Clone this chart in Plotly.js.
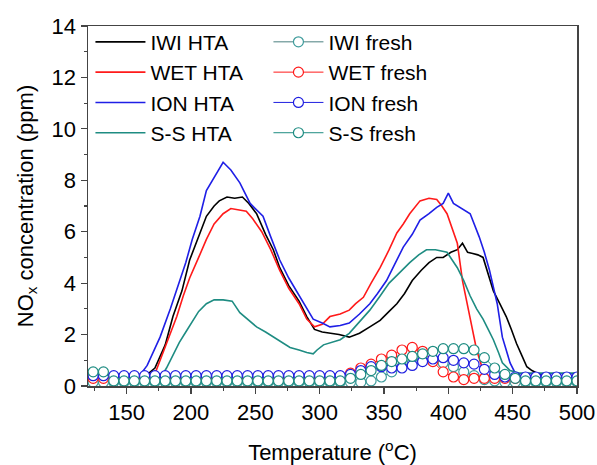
<!DOCTYPE html>
<html>
<head>
<meta charset="utf-8">
<script src="https://cdn.plot.ly/plotly-3.0.1.min.js"></script>
<style>html,body{margin:0;padding:0;background:#fff;}#chart{width:597px;height:465px;}</style>
</head>
<body>
<div id="chart"></div>
<script>
var iwiHtaT = [120,165,172,180,186,193,199,206,212,218,222,228,234,240,245,251,258,264,269,276,284,290,296,302,308,315,323,331,339,347,354,360,366,372,379,385,391,396,402,407,411,415,419,423,427,431,435,440,445,449,453,457,461,465,469,475,500];
var iwiHtaV = [0.4,0.4,0.7,1.6,2.7,3.7,4.9,5.8,6.6,7.0,7.2,7.35,7.3,7.35,7.1,6.7,5.9,5.3,4.6,3.9,3.3,2.7,2.2,2.1,2.05,2.0,1.9,2.05,2.3,2.55,2.9,3.2,3.6,4.1,4.5,4.8,5.0,5.0,5.2,5.3,5.55,5.2,5.15,5.1,5.0,4.3,3.7,3.2,2.7,2.2,1.65,1.2,0.75,0.6,0.5,0.4,0.4];

var wetHtaT = [120,168,173,180,189,194,199,206,212,218,225,231,238,243,248,255,262,269,276,284,290,296,302,308,316,323,328,334,340,347,354,360,365,370,378,385,391,395,399,403,407,411,414,417,422,427,432,500];
var wetHtaV = [0.4,0.4,0.6,1.5,2.7,3.5,4.2,5.0,5.7,6.3,6.7,6.9,6.85,6.8,6.5,6.0,5.3,4.5,3.8,3.2,2.6,2.3,2.4,2.7,2.8,2.95,3.2,3.45,4.0,4.6,5.3,5.95,6.3,6.7,7.2,7.3,7.25,7.0,6.7,6.1,5.55,4.1,3.4,2.7,1.4,0.6,0.3,0.3];

var ionHtaT = [120,160,166,176,184,191,196,201,207,212,218,225,231,238,246,256,262,269,276,282,289,295,302,308,316,323,331,339,345,352,358,365,372,378,385,391,396,400,404,409,417,424,428,432,435,438,442,445,448,452,456,500];
var ionHtaV = [0.4,0.4,0.8,1.9,3.0,4.0,4.8,5.7,6.6,7.6,8.1,8.7,8.4,7.9,7.1,6.6,5.8,4.9,4.2,3.7,3.1,2.6,2.45,2.3,2.35,2.45,2.8,3.2,3.6,4.1,4.7,5.4,5.9,6.45,6.7,6.95,7.1,7.5,7.1,6.95,6.7,5.8,5.2,4.5,3.8,3.2,1.9,1.4,0.9,0.5,0.4,0.4];

var ssHtaT = [120,178,181,186,191,196,201,206,212,218,225,232,238,244,251,258,264,270,277,284,290,295,298,303,308,316,323,331,339,347,354,362,370,377,383,390,395,399,403,407,412,417,422,427,431,435,439,442,448,455,500];
var ssHtaV = [0.45,0.45,0.7,1.2,1.7,2.1,2.5,2.9,3.2,3.35,3.35,3.3,2.85,2.6,2.3,2.1,1.9,1.7,1.5,1.4,1.3,1.25,1.4,1.6,1.67,1.8,2.05,2.5,2.95,3.5,4.0,4.4,4.8,5.1,5.3,5.3,5.25,5.2,4.9,4.6,4.1,3.5,3.0,2.6,2.2,1.8,1.3,0.9,0.6,0.5,0.5];

// fresh series (marker points)
var freshT = [124,132,140,148,156,164,172,180,188,196,204,212,220,228,236,244,252,260,268,276,284,292,300,308,316,324,332,340,348,356,364,372,380,388,396,404,412,420,428,436,444,452,460,468,476,484,492,500];
var iwiFreshV = [0.15,0.15,0.15,0.15,0.15,0.15,0.15,0.15,0.15,0.15,0.15,0.15,0.15,0.15,0.15,0.15,0.15,0.15,0.15,0.15,0.15,0.15,0.15,0.15,0.15,0.15,0.15,0.2,0.35,0.55,0.75,0.9,1.0,1.0,0.9,0.75,0.55,0.4,0.25,0.2,0.15,0.15,0.15,0.15,0.15,0.15,0.15,0.15];
var wetFreshV = [0.3,0.3,0.3,0.3,0.3,0.3,0.3,0.3,0.3,0.3,0.3,0.3,0.3,0.3,0.3,0.3,0.3,0.3,0.3,0.3,0.3,0.3,0.3,0.3,0.35,0.5,0.7,0.85,1.05,1.2,1.4,1.5,1.35,0.95,0.55,0.35,0.25,0.3,0.3,0.3,0.3,0.3,0.3,0.3,0.3,0.3,0.3,0.3];
var ionFreshV = [0.4,0.4,0.4,0.4,0.4,0.4,0.4,0.4,0.4,0.4,0.4,0.4,0.4,0.4,0.4,0.4,0.4,0.4,0.4,0.4,0.4,0.4,0.4,0.4,0.4,0.45,0.6,0.75,0.75,0.7,0.7,0.8,0.95,1.05,1.1,1.0,0.9,0.85,0.65,0.45,0.35,0.35,0.35,0.35,0.35,0.35,0.35,0.35];
var ssFreshV = [0.55,0.55,0.2,0.2,0.2,0.2,0.2,0.2,0.2,0.2,0.2,0.2,0.2,0.2,0.2,0.2,0.2,0.2,0.2,0.2,0.2,0.2,0.2,0.2,0.2,0.3,0.45,0.6,0.8,0.95,1.05,1.15,1.25,1.35,1.45,1.45,1.45,1.4,1.1,0.7,0.45,0.3,0.2,0.2,0.2,0.2,0.2,0.2];

var names = ['IWI HTA','WET HTA','ION HTA','S-S HTA','IWI fresh','WET fresh','ION fresh','S-S fresh'];

function hta(name, x, y, color){
  return {type:'scatter', mode:'lines', name:name, x:x, y:y, legend:'legend',
    line:{color:color, width:1.6}};
}
function fresh(name, y, color, lineColor){
  return {type:'scatter', mode:'lines+markers', name:name, x:freshT, y:y, legend:'legend2',
    line:{color:lineColor, width:1},
    marker:{symbol:'circle', size:10, color:'#ffffff', line:{color:color, width:1.2}}};
}

var data = [
  hta(names[0], iwiHtaT, iwiHtaV, '#000000'),
  hta(names[1], wetHtaT, wetHtaV, '#ff1a1a'),
  hta(names[2], ionHtaT, ionHtaV, '#1f1fe6'),
  hta(names[3], ssHtaT, ssHtaV, '#1e8c82'),
  fresh(names[4], iwiFreshV, '#3f9c9c', '#4a7f7f'),
  fresh(names[5], wetFreshV, '#ff1a1a', '#ff1a1a'),
  fresh(names[6], ionFreshV, '#2020e0', '#2020e0'),
  fresh(names[7], ssFreshV, '#1e8c82', '#1e8c82')
];

var fontFam = '"Liberation Sans", Arial, sans-serif';
var legendBase = function(x){
  return {orientation:'v', x:x, y:1.012, xanchor:'left', yanchor:'top',
    bgcolor:'rgba(0,0,0,0)', itemwidth:50, tracegroupgap:0, traceorder:'normal',
    font:{family:fontFam, size:21, color:'#000'}};
};
var layout = {
  width:597, height:465,
  margin:{l:88, r:20, t:26, b:79},
  paper_bgcolor:'#ffffff', plot_bgcolor:'#ffffff',
  font:{family:fontFam, size:22, color:'#000'},
  showlegend:true,
  legend:legendBase(0.005),
  legend2:legendBase(0.369),
  xaxis:{range:[120,500], dtick:50, tick0:0, showgrid:false, zeroline:false,
    showline:true, linecolor:'#444', linewidth:1.5, mirror:true,
    ticks:'outside', ticklen:6, tickwidth:1.2, tickcolor:'#444',
    minor:{dtick:25, ticks:'outside', ticklen:3, tickcolor:'#444', showgrid:false},
    tickfont:{family:fontFam, size:22},
    title:{text:'Temperature (<sup>o</sup>C)', font:{family:fontFam, size:22}, standoff:22}},
  yaxis:{range:[0,14], dtick:2, showgrid:false, zeroline:false,
    showline:true, linecolor:'#444', linewidth:1.5, mirror:true,
    ticks:'outside', ticklen:6, tickwidth:1.2, tickcolor:'#444',
    minor:{dtick:1, ticks:'outside', ticklen:3, tickcolor:'#444', showgrid:false},
    tickfont:{family:fontFam, size:22},
    title:{text:'NO<sub>x</sub> concentration (ppm)', font:{family:fontFam, size:22}, standoff:12}}
};

Plotly.newPlot('chart', data, layout, {displayModeBar:false, staticPlot:true});
</script>
</body>
</html>
